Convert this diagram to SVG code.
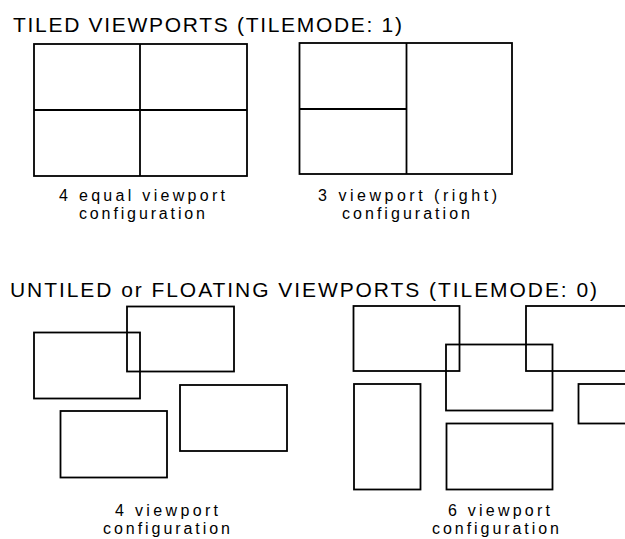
<svg xmlns="http://www.w3.org/2000/svg" width="625" height="539" viewBox="0 0 625 539">
<style>
.v{fill:none;stroke:#000;stroke-width:1.8}
.t{font-family:"Liberation Sans",Arial,sans-serif;fill:#000}
.h{font-size:21px}
.l{font-size:16px}
</style>
<rect width="625" height="539" fill="#fff"/>
<text class="t h" x="13" y="32" textLength="389" lengthAdjust="spacing">TILED VIEWPORTS (TILEMODE: 1)</text>
<g id="tiled4">
<rect class="v" x="34" y="44" width="213" height="132"/>
<line class="v" x1="140" y1="44" x2="140" y2="176"/>
<line class="v" x1="34" y1="110" x2="247" y2="110"/>
<text class="t l" x="59" y="201" textLength="166" lengthAdjust="spacing">4 equal viewport</text>
<text class="t l" x="79" y="219" textLength="126" lengthAdjust="spacing">configuration</text>
</g>
<g id="tiled3">
<rect class="v" x="299.5" y="43" width="212.5" height="131"/>
<line class="v" x1="406.5" y1="43" x2="406.5" y2="174"/>
<line class="v" x1="299.5" y1="109" x2="406.5" y2="109"/>
<text class="t l" x="318" y="201" textLength="179" lengthAdjust="spacing">3 viewport (right)</text>
<text class="t l" x="342" y="219" textLength="128" lengthAdjust="spacing">configuration</text>
</g>
<text class="t h" x="10" y="297" textLength="587" lengthAdjust="spacing">UNTILED or FLOATING VIEWPORTS (TILEMODE: 0)</text>
<g id="floating4">
<rect class="v" x="34" y="332.5" width="106" height="66"/>
<rect class="v" x="127" y="306.5" width="107" height="65"/>
<rect class="v" x="180" y="385" width="107" height="66"/>
<rect class="v" x="60.5" y="411" width="106.5" height="66.5"/>
<text class="t l" x="115" y="516" textLength="103" lengthAdjust="spacing">4 viewport</text>
<text class="t l" x="103" y="534" textLength="127" lengthAdjust="spacing">configuration</text>
</g>
<g id="floating6">
<rect class="v" x="353.5" y="306" width="106" height="65"/>
<rect class="v" x="446" y="344.5" width="106.5" height="66"/>
<rect class="v" x="526" y="306" width="110" height="65"/>
<rect class="v" x="354" y="384" width="66.5" height="105.5"/>
<rect class="v" x="446.5" y="423.5" width="106" height="66"/>
<rect class="v" x="578.5" y="384" width="60" height="39.5"/>
<text class="t l" x="448" y="516" textLength="102" lengthAdjust="spacing">6 viewport</text>
<text class="t l" x="432" y="534" textLength="127" lengthAdjust="spacing">configuration</text>
</g>
</svg>
